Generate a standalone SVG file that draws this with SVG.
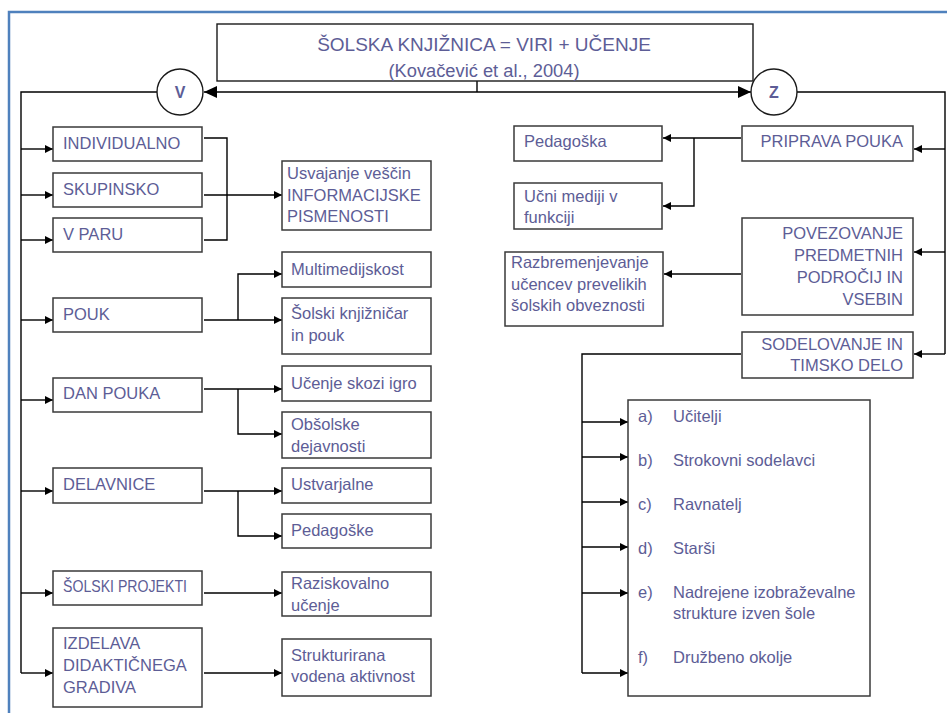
<svg xmlns="http://www.w3.org/2000/svg" width="947" height="713" viewBox="0 0 947 713">
<defs>
<marker id="ah" markerUnits="userSpaceOnUse" markerWidth="9" markerHeight="8" refX="8" refY="4" orient="auto"><path d="M0,0 L8,4 L0,8 z" fill="#000"/></marker>
<marker id="ahb" markerUnits="userSpaceOnUse" markerWidth="14" markerHeight="12" refX="13" refY="6" orient="auto"><path d="M0,0 L13,6 L0,12 z" fill="#000"/></marker>
<style>
.box{fill:#fff;stroke:#3a3a3a;stroke-width:1.5}
.t{font-family:"Liberation Sans",Arial,sans-serif;font-size:16.5px;fill:#5d5d96}
.r{text-anchor:end}
.c{fill:none;stroke:#000;stroke-width:1.4}
.a{marker-end:url(#ah)}
</style>
</defs>
<rect width="947" height="713" fill="#fff"/>
<rect x="9" y="12" width="960" height="720" fill="none" stroke="#4f81bd" stroke-width="2.5"/>

<g id="connectors">
<path class="c" d="M477,81 V92"/>
<path class="c" d="M477,92 H204" marker-end="url(#ahb)"/>
<path class="c" d="M477,92 H751" marker-end="url(#ahb)"/>
<path class="c" d="M157,92 H21 V673"/>
<path class="c a" d="M21,149 H53"/>
<path class="c a" d="M21,195 H53"/>
<path class="c a" d="M21,240 H53"/>
<path class="c a" d="M21,320 H53"/>
<path class="c a" d="M21,400 H53"/>
<path class="c a" d="M21,491 H53"/>
<path class="c a" d="M21,593 H53"/>
<path class="c a" d="M21,673 H53"/>
<path class="c" d="M204,138 H227 V240 H204"/>
<path class="c a" d="M204,195 H282"/>
<path class="c a" d="M204,320 H282"/>
<path class="c a" d="M238,320 V274 H282"/>
<path class="c a" d="M204,389 H282"/>
<path class="c a" d="M238,389 V434 H282"/>
<path class="c a" d="M204,491 H282"/>
<path class="c a" d="M238,491 V536 H282"/>
<path class="c a" d="M204,593 H282"/>
<path class="c a" d="M204,673 H282"/>
<path class="c" d="M797,92 H945 V354"/>
<path class="c a" d="M945,149 H914"/>
<path class="c a" d="M945,252 H914"/>
<path class="c a" d="M945,354 H914"/>
<path class="c a" d="M741,138 H663"/>
<path class="c a" d="M694,138 V206 H663"/>
<path class="c a" d="M741,274 H664"/>
<path class="c" d="M741,354 H582 V673"/>
<path class="c a" d="M582,422 H628"/>
<path class="c a" d="M582,457 H628"/>
<path class="c a" d="M582,502 H628"/>
<path class="c a" d="M582,547 H628"/>
<path class="c a" d="M582,593 H628"/>
<path class="c a" d="M582,673 H628"/>
</g>

<g id="title">
<rect x="217" y="24" width="536" height="57" fill="none" stroke="#1a1a1a" stroke-width="1.4"/>
<text class="t" x="484" y="51" text-anchor="middle" style="font-size:19px">ŠOLSKA KNJIŽNICA = VIRI + UČENJE</text>
<text class="t" x="484" y="77" text-anchor="middle" style="font-size:18.3px">(Kovačević et al., 2004)</text>
</g>
<g id="v"><circle cx="180" cy="92" r="23" fill="#fff" stroke="#1a1a1a" stroke-width="1.4"/><text class="t" x="180" y="98" text-anchor="middle" style="font-weight:bold;font-size:16px">V</text></g>
<g id="z"><circle cx="774" cy="92" r="23" fill="#fff" stroke="#1a1a1a" stroke-width="1.4"/><text class="t" x="774" y="98" text-anchor="middle" style="font-weight:bold;font-size:16px">Z</text></g>

<g id="individualno"><rect class="box" x="53" y="127" width="149" height="34"/><text class="t" x="63" y="149">INDIVIDUALNO</text></g>
<g id="skupinsko"><rect class="box" x="53" y="173" width="149" height="34"/><text class="t" x="63" y="195">SKUPINSKO</text></g>
<g id="vparu"><rect class="box" x="53" y="218" width="149" height="34"/><text class="t" x="63" y="240">V PARU</text></g>
<g id="pouk"><rect class="box" x="53" y="298" width="149" height="34"/><text class="t" x="63" y="320">POUK</text></g>
<g id="danpouka"><rect class="box" x="53" y="378" width="149" height="34"/><text class="t" x="63" y="399">DAN POUKA</text></g>
<g id="delavnice"><rect class="box" x="53" y="468" width="149" height="35"/><text class="t" x="63" y="490">DELAVNICE</text></g>
<g id="projekti"><rect class="box" x="53" y="571" width="149" height="34"/><text class="t" x="63" y="592" textLength="124" lengthAdjust="spacingAndGlyphs">ŠOLSKI PROJEKTI</text></g>
<g id="izdelava"><rect class="box" x="53" y="628" width="149" height="79"/><text class="t" x="63" y="649">IZDELAVA</text><text class="t" x="63" y="671">DIDAKTIČNEGA</text><text class="t" x="63" y="693">GRADIVA</text></g>

<g id="usvajanje"><rect class="box" x="282" y="161" width="149" height="69"/><text class="t" x="287" y="179">Usvajanje veščin</text><text class="t" x="287" y="201">INFORMACIJSKE</text><text class="t" x="287" y="222">PISMENOSTI</text></g>
<g id="multimedijskost"><rect class="box" x="282" y="252" width="149" height="35"/><text class="t" x="291" y="275">Multimedijskost</text></g>
<g id="knjiznicar"><rect class="box" x="282" y="298" width="149" height="56"/><text class="t" x="291" y="319">Šolski knjižničar</text><text class="t" x="291" y="341">in pouk</text></g>
<g id="igro"><rect class="box" x="282" y="366" width="149" height="35"/><text class="t" x="291" y="389">Učenje skozi igro</text></g>
<g id="obsolske"><rect class="box" x="282" y="412" width="149" height="46"/><text class="t" x="291" y="430">Obšolske</text><text class="t" x="291" y="452">dejavnosti</text></g>
<g id="ustvarjalne"><rect class="box" x="282" y="468" width="149" height="35"/><text class="t" x="291" y="490">Ustvarjalne</text></g>
<g id="pedagoske"><rect class="box" x="282" y="514" width="149" height="34"/><text class="t" x="291" y="536">Pedagoške</text></g>
<g id="raziskovalno"><rect class="box" x="282" y="572" width="149" height="44"/><text class="t" x="291" y="589">Raziskovalno</text><text class="t" x="291" y="611">učenje</text></g>
<g id="strukturirana"><rect class="box" x="282" y="639" width="149" height="57"/><text class="t" x="291" y="661">Strukturirana</text><text class="t" x="291" y="682">vodena aktivnost</text></g>

<g id="pedagoska"><rect class="box" x="514" y="126" width="148" height="35"/><text class="t" x="524" y="147">Pedagoška</text></g>
<g id="ucnimediji"><rect class="box" x="514" y="183" width="148" height="46"/><text class="t" x="524" y="202">Učni mediji v</text><text class="t" x="524" y="223">funkciji</text></g>
<g id="razbremenjevanje"><rect class="box" x="505" y="252" width="158" height="74"/><text class="t" x="511" y="268">Razbremenjevanje</text><text class="t" x="511" y="290">učencev prevelikih</text><text class="t" x="511" y="311">šolskih obveznosti</text></g>
<g id="priprava"><rect class="box" x="742" y="126" width="171" height="35"/><text class="t r" x="903" y="147">PRIPRAVA POUKA</text></g>
<g id="povezovanje"><rect class="box" x="742" y="218" width="171" height="97"/><text class="t r" x="903" y="239">POVEZOVANJE</text><text class="t r" x="903" y="261">PREDMETNIH</text><text class="t r" x="903" y="283">PODROČIJ IN</text><text class="t r" x="903" y="305">VSEBIN</text></g>
<g id="sodelovanje"><rect class="box" x="742" y="332" width="171" height="46"/><text class="t r" x="903" y="350">SODELOVANJE IN</text><text class="t r" x="903" y="371">TIMSKO DELO</text></g>
<g id="sodelavci"><rect class="box" x="628" y="400" width="242" height="296"/>
<text class="t" x="638" y="422">a)</text><text class="t" x="673" y="422">Učitelji</text>
<text class="t" x="638" y="466">b)</text><text class="t" x="673" y="466">Strokovni sodelavci</text>
<text class="t" x="638" y="510">c)</text><text class="t" x="673" y="510">Ravnatelj</text>
<text class="t" x="638" y="554">d)</text><text class="t" x="673" y="554">Starši</text>
<text class="t" x="638" y="598">e)</text><text class="t" x="673" y="598">Nadrejene izobraževalne</text><text class="t" x="673" y="619">strukture izven šole</text>
<text class="t" x="638" y="663">f)</text><text class="t" x="673" y="663">Družbeno okolje</text>
</g>
</svg>
